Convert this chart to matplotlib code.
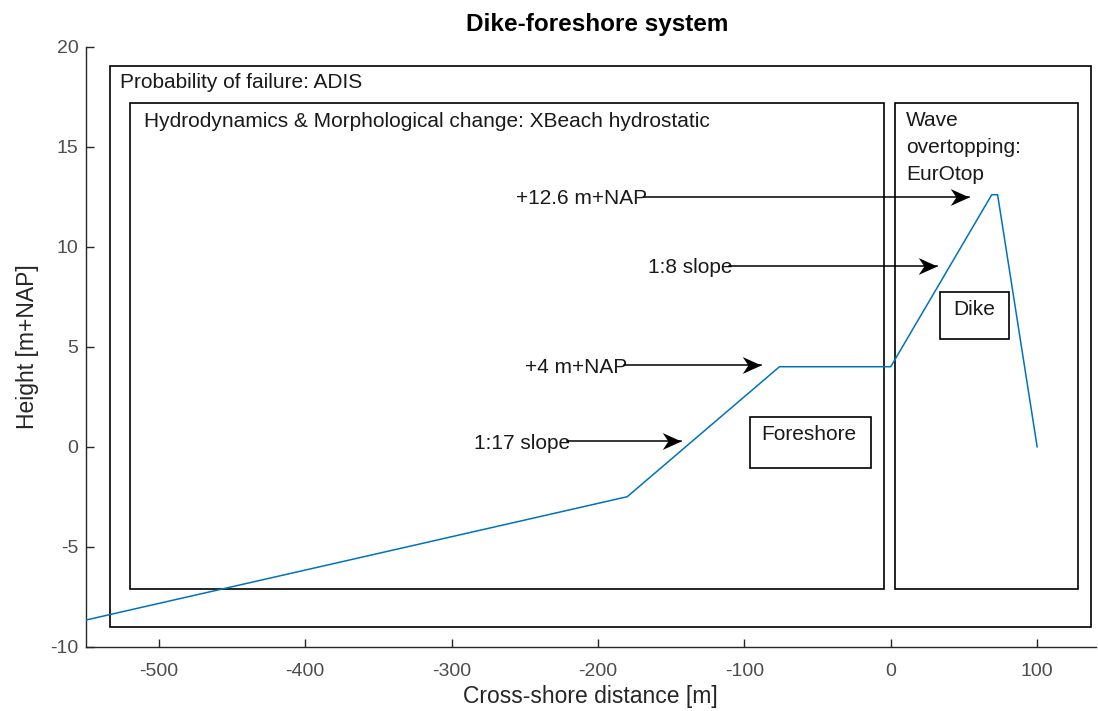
import matplotlib
matplotlib.use("Agg")
import matplotlib.pyplot as plt
from matplotlib.patches import Rectangle
from matplotlib.path import Path

plt.rcParams['font.family'] = ['Liberation Sans', 'DejaVu Sans']
plt.rcParams['axes.unicode_minus'] = False

# Profile data
profile_x = [-550, -180, -76, 0, 69, 73, 100]
profile_z = [-8.67, -2.5, 4.0, 4.0, 12.6, 12.6, 0.0]

# Boxes: (x0, y0, x1, y1)
box_x0 = [-533, -519.7, 3.2, 33.9, -96.3]
box_y0 = [-9.0, -7.13, -7.13, 5.37, -1.05]
box_x1 = [136.6, -4.8, 128.2, 80.5, -13.4]
box_y1 = [19.05, 17.17, 17.17, 7.72, 1.47]

# Box labels (baseline positions)
lab_text = ["Probability of failure: ADIS",
            "Hydrodynamics & Morphological change: XBeach hydrostatic",
            "Wave", "overtopping:", "EurOtop",
            "Dike", "Foreshore"]
lab_x = [-526.7, -510.4, 10.7, 10.7, 10.7, 56.8, -56.2]
lab_y = [17.92, 16.0, 16.03, 14.7, 13.33, 6.58, 0.33]
lab_ha = ['left', 'left', 'left', 'left', 'left', 'center', 'center']

# Annotations: text, text x (left), arrow y, arrow tip x
ann_text = ["+12.6 m+NAP", "1:8 slope", "+4 m+NAP", "1:17 slope"]
ann_x = [-255.9, -165.9, -249.7, -284.6]
ann_y = [12.5, 9.05, 4.08, 0.28]
ann_tip = [53.5, 31.5, -88.9, -143.4]

x_ticks = [-500, -400, -300, -200, -100, 0, 100]
y_ticks = [-10, -5, 0, 5, 10, 15, 20]

fig = plt.figure(figsize=(10.98, 7.11), dpi=100)
ax = fig.add_axes([0.0779, 0.0904, 0.9200, 0.8439])
ax.set_xlim(-550, 140)
ax.set_ylim(-10, 20)

grey = '#262626'
txtc = '#1a1a1a'
ax.plot(profile_x, profile_z, color='#0072BD', lw=1.1, zorder=3)

for x0, y0, x1, y1 in zip(box_x0, box_y0, box_x1, box_y1):
    ax.add_patch(Rectangle((x0, y0), x1 - x0, y1 - y0, fill=False,
                           edgecolor='k', lw=1.2, zorder=2))
for t, lx, ly, ha in zip(lab_text, lab_x, lab_y, lab_ha):
    ax.text(lx, ly, t, ha=ha, va='baseline', fontsize=15, color=txtc, zorder=4)

# stealth-like arrow head marker (tip at origin, pointing right)
head = Path([(0, 0), (-1.0, 0.45), (-0.7, 0), (-1.0, -0.45), (0, 0)],
            [Path.MOVETO, Path.LINETO, Path.LINETO, Path.LINETO, Path.CLOSEPOLY])

fig.canvas.draw()
for t, tx, ty, tip in zip(ann_text, ann_x, ann_y, ann_tip):
    txt = ax.text(tx, ty, t, ha='left', va='center_baseline', fontsize=15,
                  color=txtc, zorder=5)
    bb = txt.get_window_extent(renderer=fig.canvas.get_renderer()).transformed(
        ax.transData.inverted())
    ax.plot([bb.x1 - 2, tip], [ty, ty], color='k', lw=1.1, zorder=5)
    ax.plot([tip], [ty], marker=head, markersize=27, color='k',
            markeredgewidth=0, zorder=6)

ax.set_xticks(x_ticks)
ax.set_yticks(y_ticks)
ax.spines['top'].set_visible(False)
ax.spines['right'].set_visible(False)
for s in ('left', 'bottom'):
    ax.spines[s].set_color(grey)
    ax.spines[s].set_linewidth(1.0)
ax.tick_params(direction='in', length=6, width=1.0, colors=grey,
               labelsize=14, labelcolor='#4d4d4d')
ax.tick_params(axis='x', pad=11.5)
ax.tick_params(axis='y', pad=5)
ax.set_xlabel("Cross-shore distance [m]", fontsize=16.5, color='#262626', labelpad=4)
ax.set_ylabel("Height [m+NAP]", fontsize=16.5, color='#262626', labelpad=8)
ax.set_title("Dike-foreshore system", fontsize=17.5, fontweight='bold',
             color='k', pad=11, x=0.507)

fig.savefig("out.png", dpi=100)
